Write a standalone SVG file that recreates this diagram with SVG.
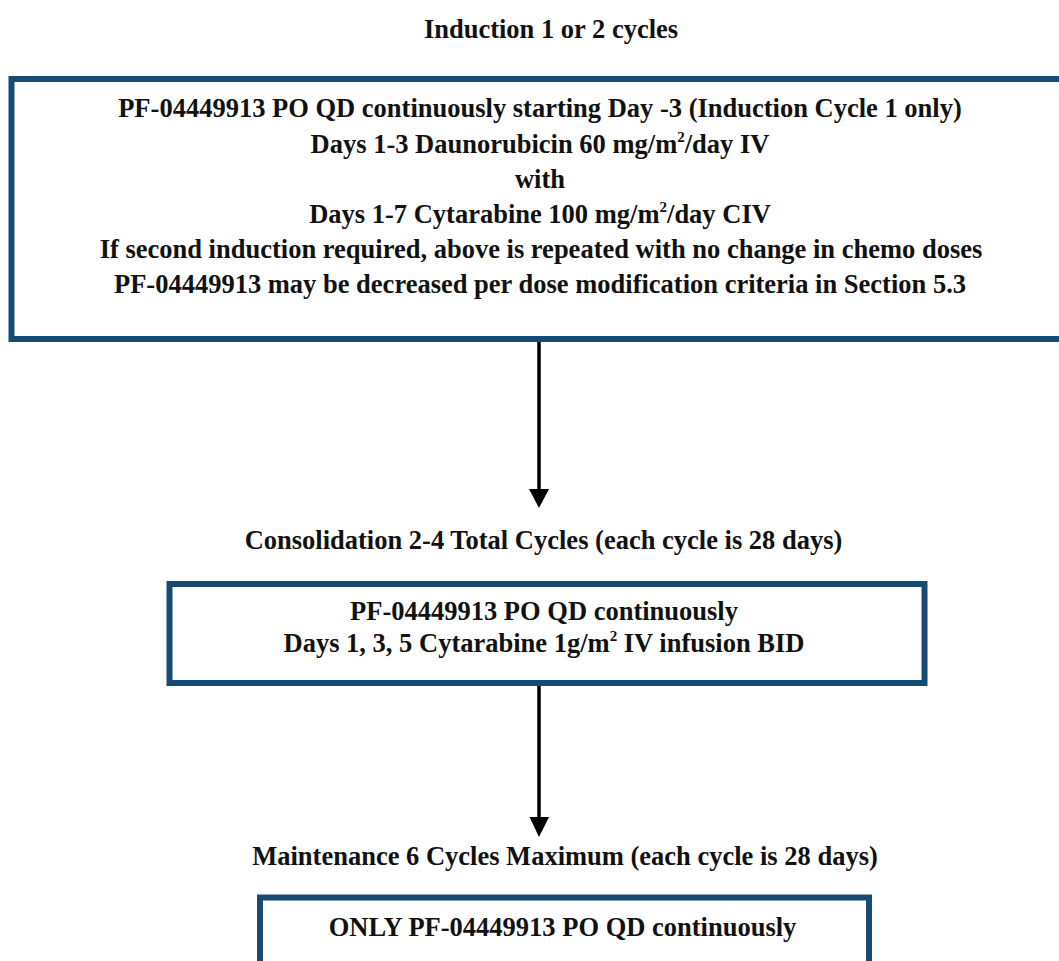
<svg xmlns="http://www.w3.org/2000/svg" width="1059" height="961" viewBox="0 0 1059 961">
<style>
  .box { fill: #ffffff; stroke: #174b72; stroke-width: 6; }
  .t { font-family: "Liberation Serif", "Times New Roman", serif; font-weight: bold; fill: #111111; text-anchor: middle; }
  .bt { font-size: 26.5px; }
  .conn line { stroke: #000000; stroke-width: 3.5; }
  .conn polygon { fill: #000000; }
</style>
<rect x="0" y="0" width="1059" height="961" fill="#ffffff"/>
<text class="t bt" x="551" y="38">Induction 1 or 2 cycles</text>
<g id="induction">
  <rect class="box" x="11.5" y="79" width="1070" height="260"/>
  <text class="t bt" x="540" y="117">PF-04449913 PO QD continuously starting Day -3 (Induction Cycle 1 only)</text>
  <text class="t bt" x="540" y="153">Days 1-3 Daunorubicin 60 mg/m<tspan font-size="15" dy="-11">2</tspan><tspan dy="11">/day IV</tspan></text>
  <text class="t bt" x="540" y="188">with</text>
  <text class="t bt" x="540" y="223">Days 1-7 Cytarabine 100 mg/m<tspan font-size="15" dy="-11">2</tspan><tspan dy="11">/day CIV</tspan></text>
  <text class="t bt" x="541" y="258">If second induction required, above is repeated with no change in chemo doses</text>
  <text class="t bt" x="540" y="293">PF-04449913 may be decreased per dose modification criteria in Section 5.3</text>
</g>
<text class="t bt" x="543.5" y="549">Consolidation 2-4 Total Cycles (each cycle is 28 days)</text>
<g id="consolidation">
  <rect class="box" x="169.5" y="584" width="755" height="99"/>
  <text class="t bt" x="544" y="620">PF-04449913 PO QD continuously</text>
  <text class="t bt" x="544" y="652">Days 1, 3, 5 Cytarabine 1g/m<tspan font-size="15" dy="-11">2</tspan><tspan dy="11"> IV infusion BID</tspan></text>
</g>
<text class="t bt" x="565" y="865">Maintenance 6 Cycles Maximum (each cycle is 28 days)</text>
<g id="maintenance">
  <rect class="box" x="260" y="897.5" width="609" height="120"/>
  <text class="t bt" x="562.5" y="936">ONLY PF-04449913 PO QD continuously</text>
</g>
<g id="connectors" class="conn">
  <line x1="539" y1="342" x2="539" y2="492"/>
  <polygon points="529,489 549,489 539,508"/>
  <line x1="539" y1="686" x2="539" y2="820"/>
  <polygon points="529.5,817 549,817 539,837"/>
</g>
</svg>
